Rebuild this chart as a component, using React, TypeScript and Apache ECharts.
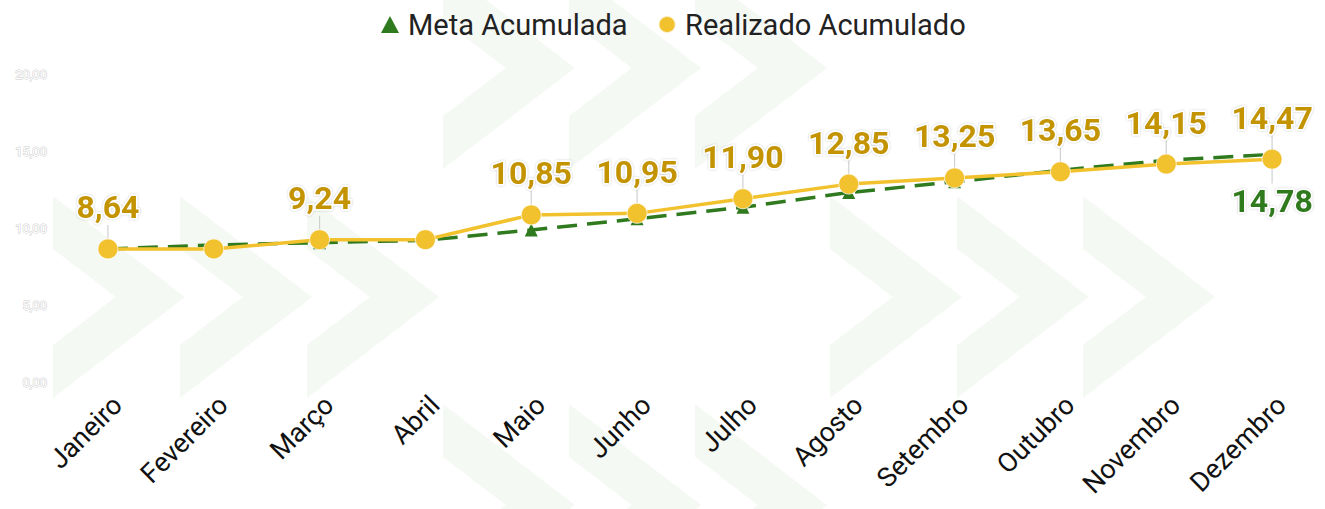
import React, { useEffect, useRef } from "react";
import * as echarts from "echarts";

const categories = ["Janeiro", "Fevereiro", "Março", "Abril", "Maio", "Junho", "Julho", "Agosto", "Setembro", "Outubro", "Novembro", "Dezembro"];
const metaAcumulada = [8.64, 8.9, 9.05, 9.2, 9.87, 10.6, 11.35, 12.3, 13.0, 13.75, 14.4, 14.78];
const realizadoAcumulado = [8.64, 8.64, 9.24, 9.24, 10.85, 10.95, 11.9, 12.85, 13.25, 13.65, 14.15, 14.47];
const yTicks = { min: 0, max: 20, interval: 5 };

const fmt = (v: number) => v.toFixed(2).replace(".", ",");

const GOLD = "#F2C12E";
const GOLD_TEXT = "#C39306";
const GREEN = "#2F7A1E";
const CHEV = "#f5f9f4";

function chevron(L: number, M: number) {
  const H = 101, D = 132, T = 53;
  const notch = D * (H - T) / H;
  return {
    type: "polygon",
    silent: true,
    z: 0,
    shape: {
      points: [
        [L, M - H],
        [L + D, M],
        [L, M + H],
        [L, M + H - T],
        [L + notch, M],
        [L, M - H + T],
      ],
    },
    style: { fill: CHEV },
  };
}

const chevronGroups: [number[], number][] = [
  [[443, 569, 695], 68],
  [[53, 180, 307], 297],
  [[830, 957, 1083], 297],
  [[443, 569, 695], 505],
];

export default function App() {
  const ref = useRef<HTMLDivElement>(null);
  useEffect(() => {
    if (!ref.current) return;
    const chart = echarts.init(ref.current, undefined, { renderer: "svg" });
    const graphics: any[] = [];
    chevronGroups.forEach(([xs, m]) => xs.forEach((x) => graphics.push(chevron(x, m))));

    const realData = realizadoAcumulado.map((v, i) => {
      const show = i === 0 || v !== realizadoAcumulado[i - 1];
      return { value: v, label: { show }, labelLine: { show } };
    });
    const metaData = metaAcumulada.map((v, i) => {
      const show = i === metaAcumulada.length - 1;
      return { value: v, label: { show }, labelLine: { show } };
    });

    chart.setOption({
      animation: false,
      backgroundColor: "#ffffff",
      textStyle: { fontFamily: "Roboto" },
      graphic: { elements: graphics },
      legend: {
        top: 5,
        left: 376,
        itemWidth: 18,
        itemHeight: 17,
        itemGap: 30,
        textStyle: { fontSize: 29, color: "#222", fontFamily: "Roboto", padding: [0, 0, 0, 4] },
        data: [
          { name: "Meta Acumulada", icon: "triangle" },
          { name: "Realizado Acumulado", icon: "circle" },
        ],
      },
      grid: { left: 55, right: 0, top: 74, bottom: 127, containLabel: false },
      xAxis: {
        type: "category",
        data: categories,
        boundaryGap: true,
        axisLine: { show: false },
        axisTick: { show: false },
        axisLabel: {
          rotate: 45,
          interval: 0,
          fontSize: 27,
          color: "#111",
          fontFamily: "Roboto",
          margin: 9,
          verticalAlign: "top",
        },
      },
      yAxis: {
        type: "value",
        min: yTicks.min,
        max: yTicks.max,
        interval: yTicks.interval,
        axisLine: { show: false },
        axisTick: { show: false },
        splitLine: { show: false },
        axisLabel: {
          formatter: (v: number) => fmt(v),
          fontSize: 13,
          color: "#ffffff",
          textBorderColor: "#cccccc",
          textBorderWidth: 1,
          margin: 8,
        },
      },
      series: [
        {
          name: "Meta Acumulada",
          type: "line",
          data: metaData,
          z: 3,
          symbol: "triangle",
          symbolSize: 13,
          itemStyle: { color: GREEN },
          lineStyle: { color: GREEN, width: 3.5, type: [20, 10] },
          label: {
            position: "bottom",
            distance: 6,
            formatter: (p: any) => fmt(p.value),
            fontSize: 32,
            fontWeight: "bold",
            color: GREEN,
            textBorderColor: "#fff",
            textBorderWidth: 3,
            textShadowColor: "rgba(0,0,0,0.25)",
            textShadowBlur: 2,
          },
          labelLayout: { dy: 18 },
          labelLine: { lineStyle: { color: "#d0d0d0", width: 1.2 } },
        },
        {
          name: "Realizado Acumulado",
          type: "line",
          data: realData,
          z: 4,
          symbol: "circle",
          symbolSize: 20,
          itemStyle: { color: GOLD, borderColor: "rgba(255,255,255,0.7)", borderWidth: 1 },
          lineStyle: { color: GOLD, width: 3.5 },
          label: {
            position: "top",
            distance: 6,
            formatter: (p: any) => fmt(p.value),
            fontSize: 32,
            fontWeight: "bold",
            color: GOLD_TEXT,
            textBorderColor: "#fff",
            textBorderWidth: 3,
            textShadowColor: "rgba(0,0,0,0.25)",
            textShadowBlur: 2,
          },
          labelLayout: { dy: -9 },
          labelLine: { lineStyle: { color: "#d0d0d0", width: 1.2 } },
        },
      ],
    });
    return () => chart.dispose();
  }, []);
  return (
    <div
      ref={ref}
      style={{ position: "absolute", left: 0, top: 0, width: 1325, height: 509 }}
    />
  );
}
